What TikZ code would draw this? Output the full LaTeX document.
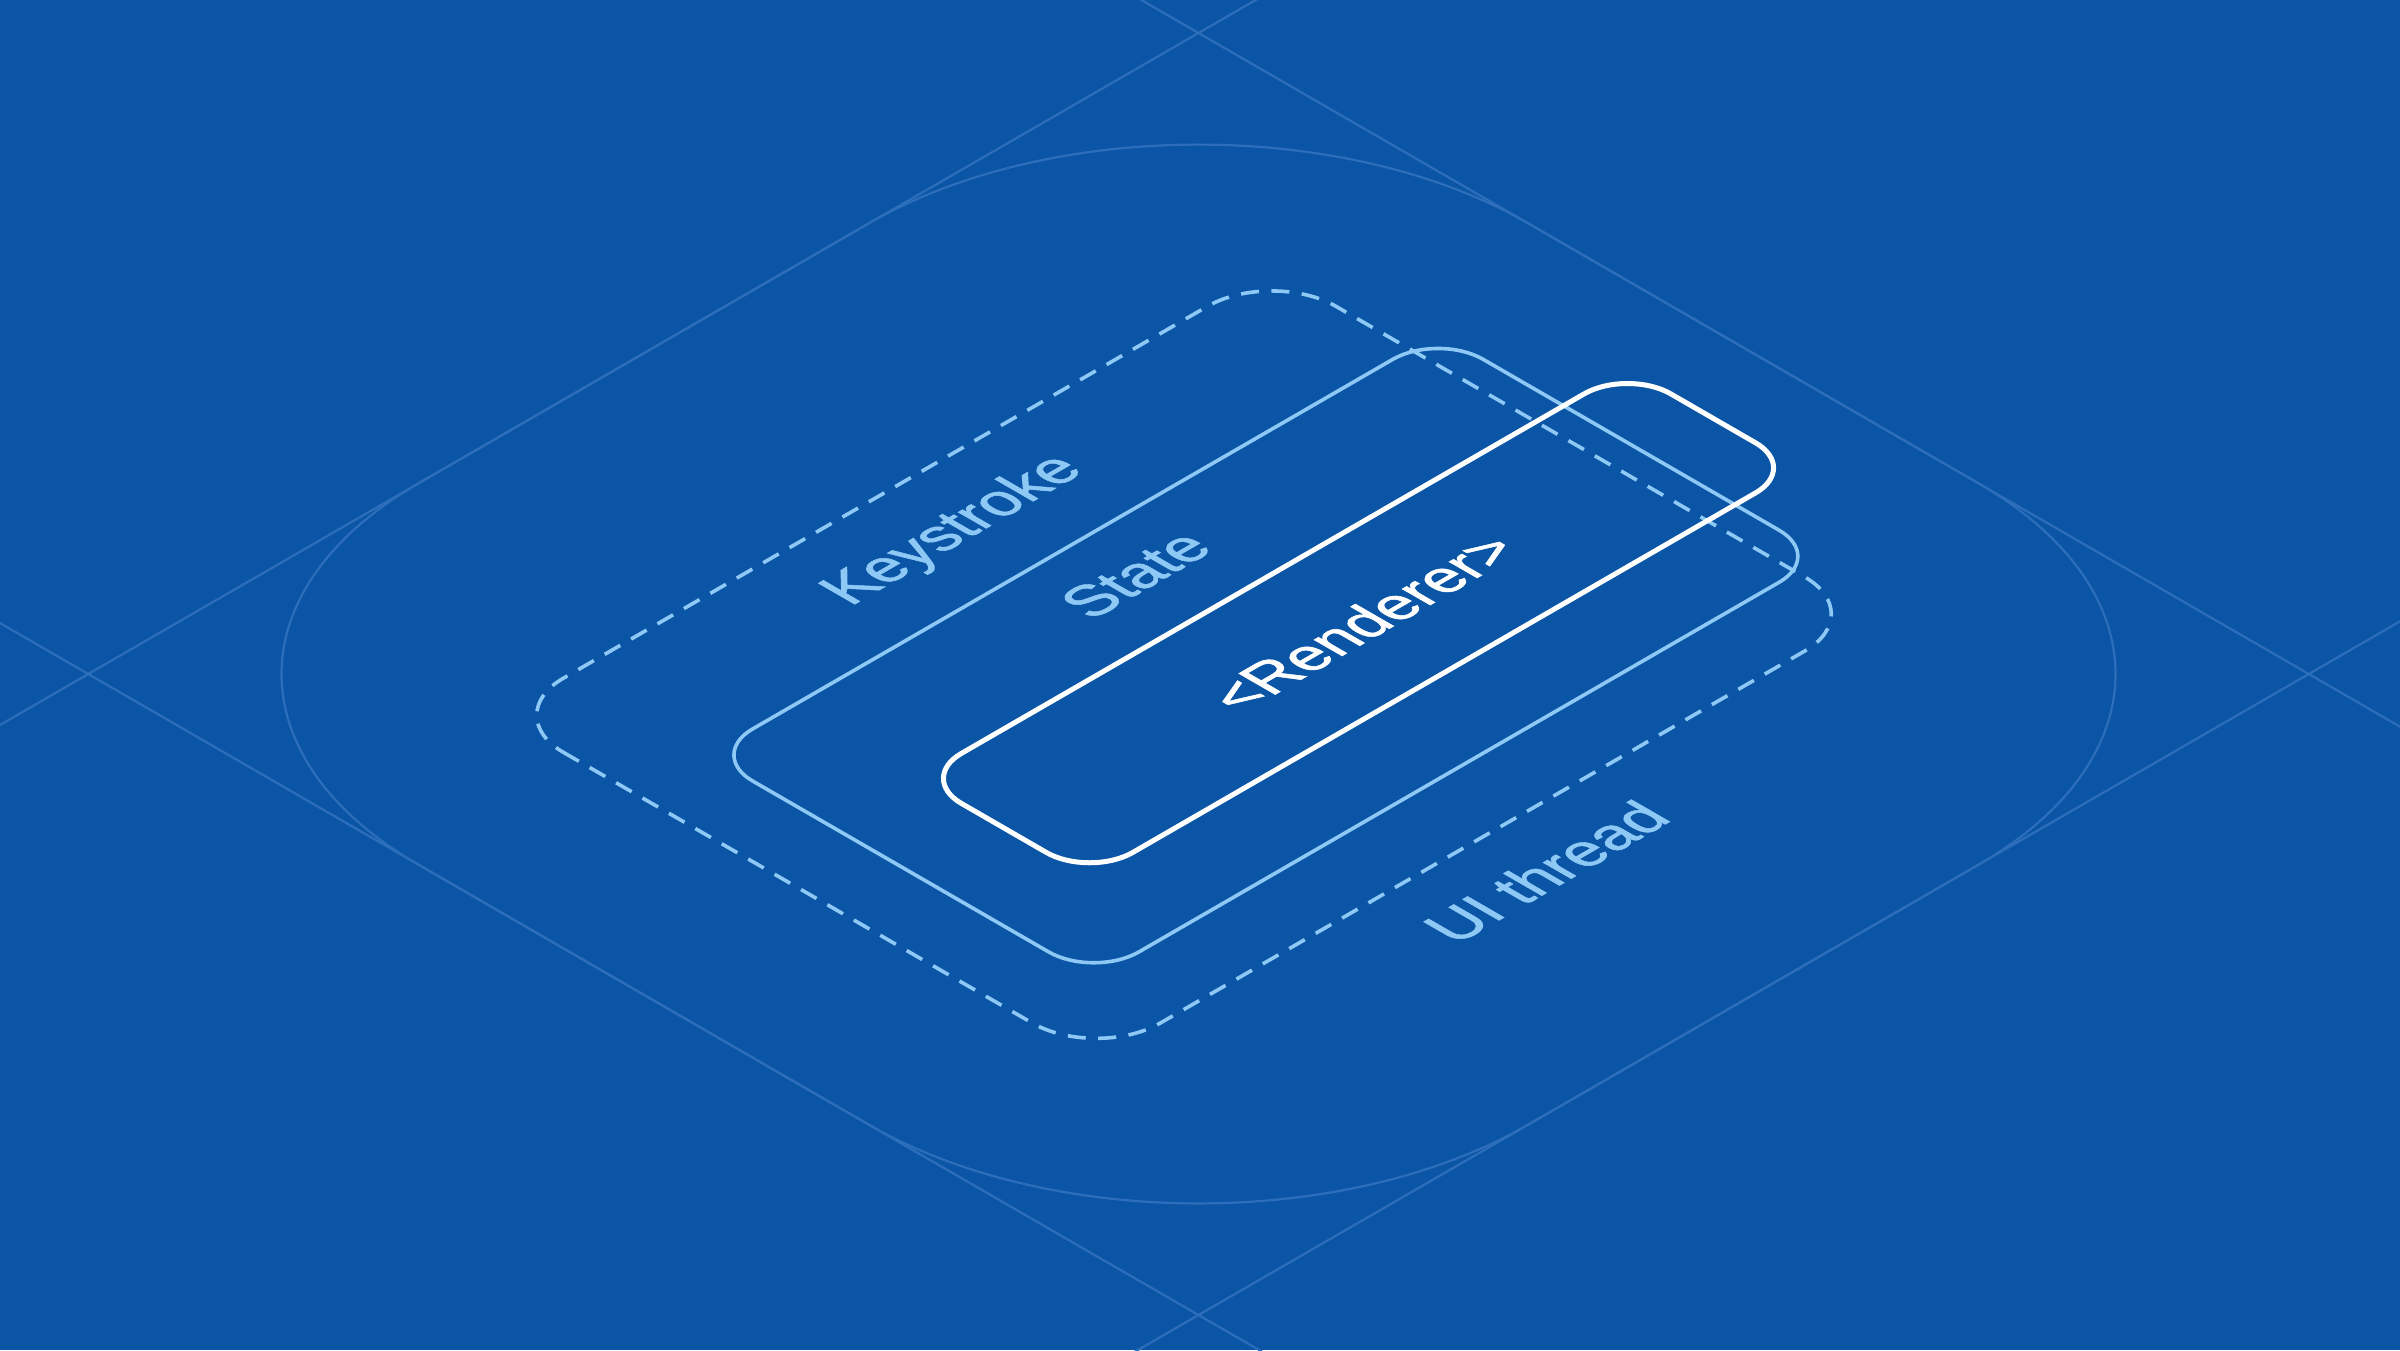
\documentclass[tikz,border=0pt]{standalone}
\usepackage{fontspec}
\newfontfamily\labfont[FakeBold=1.2]{Liberation Sans}
\definecolor{bg}{RGB}{11,85,166}
\definecolor{faint}{RGB}{45,110,186}
\definecolor{lblue}{RGB}{142,200,245}
% rounded rectangle in isometric plane: style, u0, u1, v0, v1, r
\newcommand{\isorect}[6]{%
  \draw[#1] (#2+#6,#4) -- (#3-#6,#4)
    arc[start angle=-90,end angle=0,radius=#6] -- (#3,#5-#6)
    arc[start angle=0,end angle=90,radius=#6] -- (#2+#6,#5)
    arc[start angle=90,end angle=180,radius=#6] -- (#2,#4+#6)
    arc[start angle=180,end angle=270,radius=#6] -- cycle;}
\tikzset{
  faintline/.style={draw=faint, line width=2.2pt},
  dashline/.style={draw=lblue, line width=3.6pt, dash pattern=on 18pt off 12.5pt},
  stateline/.style={draw=lblue, line width=3.6pt},
  rendline/.style={draw=white, line width=5pt},
  lab/.style={font=\labfont\fontsize{61}{61}\selectfont, inner sep=0pt, rotate=90, transform shape},
}
\begin{document}
\begin{tikzpicture}[x=1pt,y=1pt]
\useasboundingbox (0,0) rectangle (2400,-1350);
\fill[bg] (0,0) rectangle (2400,-1350);
\begin{scope}
\clip (0,0) rectangle (2400,-1350);
\begin{scope}[cm={0.8660254,-0.5,0.8660254,0.5,(1198.5,-674)}]
  % guide lines
  \draw[faintline] (-641,-2200) -- (-641,2200);
  \draw[faintline] (641,-2200) -- (641,2200);
  \draw[faintline] (-2200,-641) -- (2200,-641);
  \draw[faintline] (-2200,641) -- (2200,641);
  \isorect{faintline}{-641}{641}{-641}{641}{381}
  % layers
  \isorect{dashline}{-362.5}{327}{-445}{447}{74}
  \isorect{stateline}{-202.5}{243.5}{-364.4}{479}{52}
  \isorect{rendline}{-57.5}{140.5}{-266.3}{552.8}{50}
  % labels
  \node[lab, text=lblue] (keystroke) at (-284,2) {Keystroke};
  \node[lab, text=lblue] (state) at (-136,63) {State};
  \node[lab, text=white] (renderer) at (43,146) {<Renderer>};
  \node[lab, text=lblue] (uithread) at (398,3) {UI thread};
\end{scope}
\end{scope}
\end{tikzpicture}
\end{document}
